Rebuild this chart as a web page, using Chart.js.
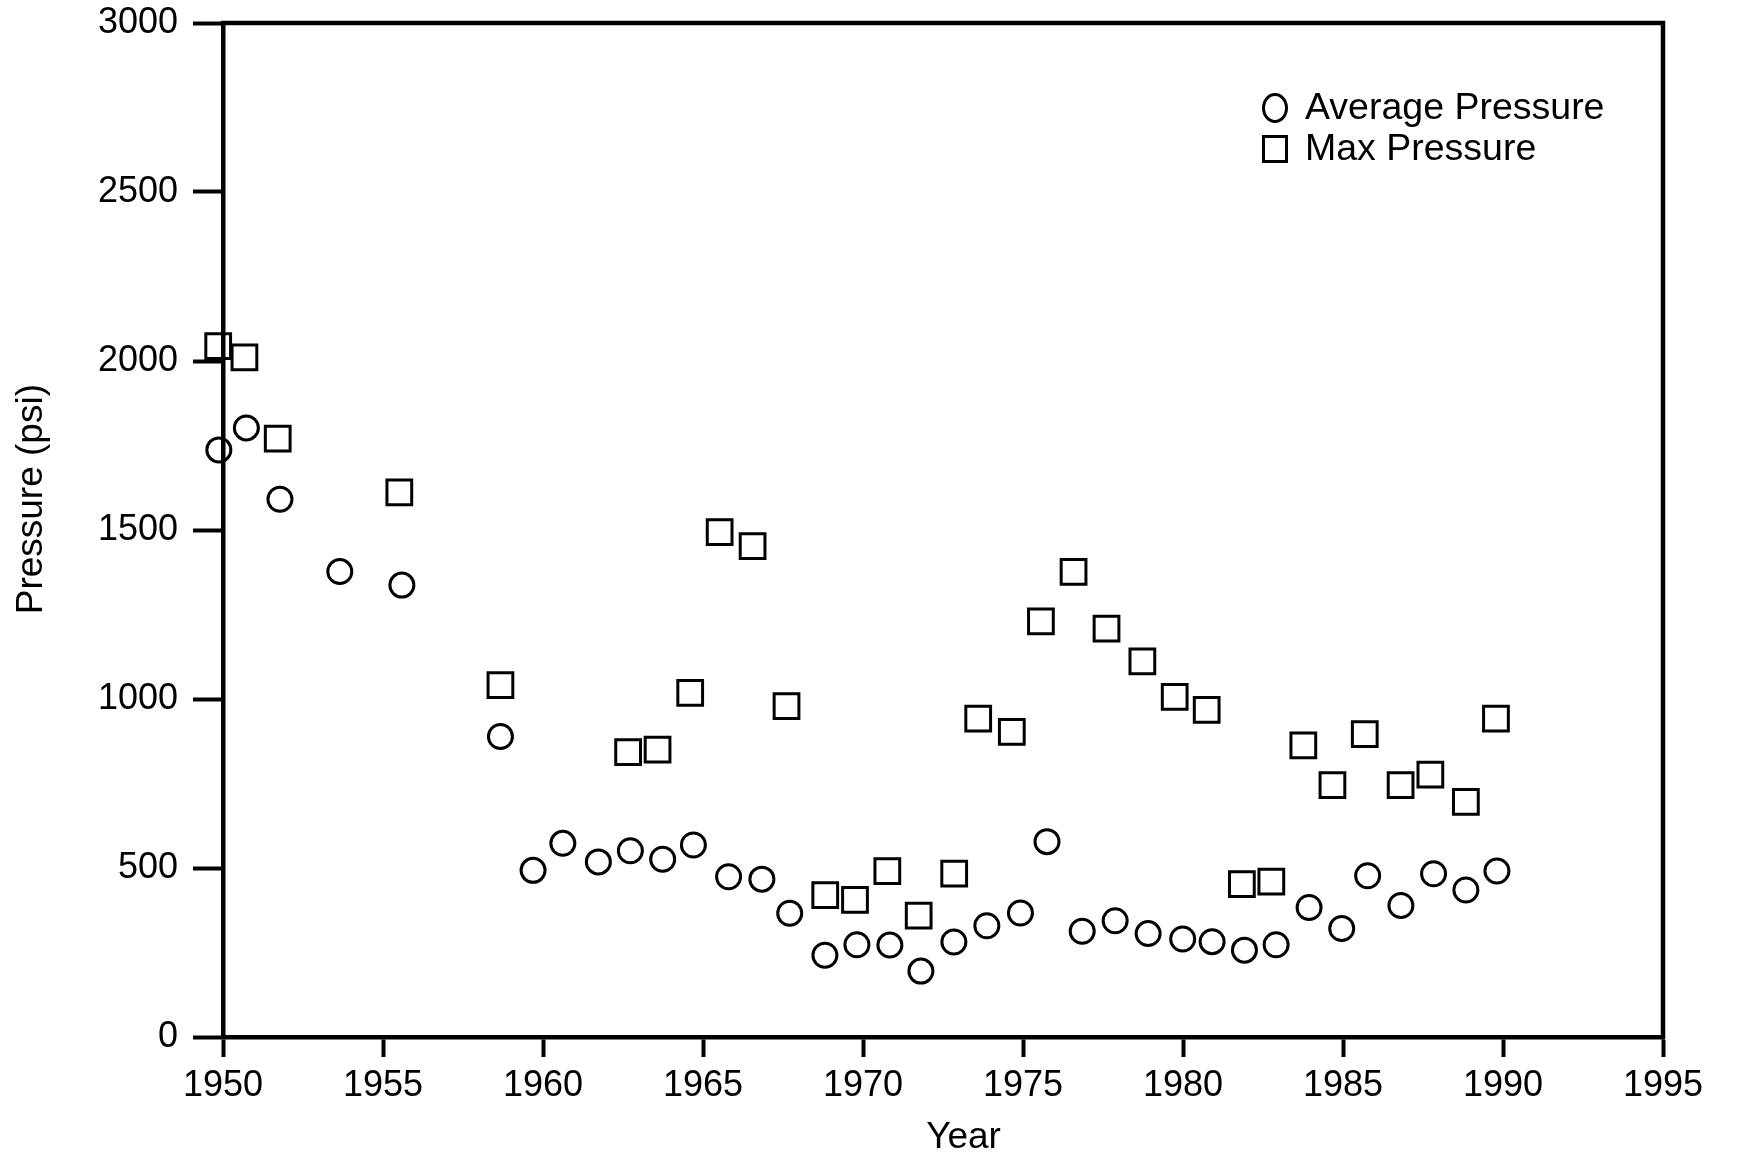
<!DOCTYPE html>
<html>
<head>
<meta charset="utf-8">
<script src="https://cdn.jsdelivr.net/npm/chart.js@4.4.1/dist/chart.umd.min.js"></script>
<style>
  html, body { margin: 0; padding: 0; background: #ffffff; }
  canvas { display: block; }
</style>
</head>
<body>
<canvas id="chart" width="1739" height="1160"></canvas>
<script>
// ---- Data ----
const avgYears = [1949.87, 1950.73, 1951.78, 1953.65, 1955.59, 1958.67, 1959.69, 1960.62, 1961.73, 1962.73,
                  1963.74, 1964.70, 1965.80, 1966.84, 1967.71, 1968.81, 1969.81, 1970.84, 1971.81, 1972.84,
                  1973.87, 1974.92, 1975.75, 1976.85, 1977.88, 1978.91, 1979.99, 1980.91, 1981.92, 1982.91,
                  1983.94, 1984.96, 1985.77, 1986.81, 1987.83, 1988.84, 1989.81];
const avgPressure = [1737, 1802, 1591, 1377, 1337, 889, 493, 573, 518, 551,
                     526, 568, 474, 467, 366, 242, 273, 272, 195, 281,
                     329, 367, 578, 313, 344, 306, 290, 282, 257, 273,
                     383, 321, 477, 389, 483, 435, 491];

const maxYears = [1949.85, 1950.67, 1951.71, 1955.51, 1958.67, 1962.66, 1963.58, 1964.60, 1965.52, 1966.55,
                  1967.61, 1968.82, 1969.75, 1970.76, 1971.74, 1972.85, 1973.60, 1974.65, 1975.56, 1976.58,
                  1977.61, 1978.73, 1979.74, 1980.74, 1981.84, 1982.76, 1983.76, 1984.67, 1985.68, 1986.80,
                  1987.73, 1988.84, 1989.78];
const maxPressure = [2044, 2011, 1770, 1611, 1041, 843, 850, 1018, 1494, 1452,
                     979, 420, 406, 491, 359, 483, 942, 903, 1230, 1376,
                     1208, 1111, 1006, 968, 452, 460, 863, 745, 896, 745,
                     776, 696, 942];

const xTickLabels = ['1950', '1955', '1960', '1965', '1970', '1975', '1980', '1985', '1990', '1995'];
const yTickLabels = ['0', '500', '1000', '1500', '2000', '2500', '3000'];
const seriesNames = ['Average Pressure', 'Max Pressure'];
const xTitle = 'Year';
const yTitle = 'Pressure (psi)';

// ---- Styling ----
const FONT = "'Liberation Sans', Arial, Helvetica, sans-serif";
const INK = '#000000';

const toPoints = (xs, ys) => xs.map((x, i) => ({ x: x, y: ys[i] }));

// Top and right sides of the plot frame
const framePlugin = {
  id: 'frame',
  afterDatasetsDraw(chart) {
    const { ctx, chartArea: a } = chart;
    ctx.save();
    ctx.strokeStyle = INK;
    ctx.lineWidth = 4.5;
    ctx.lineCap = 'square';
    ctx.beginPath();
    ctx.moveTo(a.left, a.top);
    ctx.lineTo(a.right, a.top);
    ctx.lineTo(a.right, a.bottom);
    ctx.stroke();
    ctx.restore();
  }
};

// Legend drawn inside the plot, top-right
const insideLegend = {
  id: 'insideLegend',
  afterDraw(chart) {
    const { ctx, chartArea: a } = chart;
    const sx = a.right - 388;
    const y0 = a.top + 85;
    const dy = 41;
    chart.data.datasets.forEach((ds, i) => {
      const cy = y0 + i * dy;
      ctx.save();
      ctx.strokeStyle = INK;
      ctx.lineWidth = 3;
      if (ds.pointStyle === 'circle') {
        ctx.beginPath();
        ctx.ellipse(sx, cy, 11.5, 13.5, 0, 0, Math.PI * 2);
        ctx.stroke();
      } else {
        ctx.strokeRect(sx - 11.5, cy - 12.5, 23, 25);
      }
      ctx.fillStyle = INK;
      ctx.font = '37.5px ' + FONT;
      ctx.textAlign = 'left';
      ctx.textBaseline = 'middle';
      ctx.fillText(ds.label, sx + 30, cy + 1);
      ctx.restore();
    });
  }
};

new Chart(document.getElementById('chart').getContext('2d'), {
  type: 'scatter',
  data: {
    datasets: [
      {
        label: seriesNames[0],
        data: toPoints(avgYears, avgPressure),
        pointStyle: 'circle',
        pointRadius: 12,
        pointHoverRadius: 12,
        pointBorderWidth: 3,
        pointBorderColor: INK,
        pointBackgroundColor: 'rgba(0,0,0,0)',
        showLine: false,
        clip: false
      },
      {
        label: seriesNames[1],
        data: toPoints(maxYears, maxPressure),
        pointStyle: 'rect',
        pointRadius: 17.5,
        pointHoverRadius: 17.5,
        pointBorderWidth: 3,
        pointBorderColor: INK,
        pointBackgroundColor: 'rgba(0,0,0,0)',
        showLine: false,
        clip: false
      }
    ]
  },
  options: {
    responsive: false,
    animation: false,
    devicePixelRatio: 1,
    events: [],
    layout: { padding: { top: 23, right: 76, left: 0, bottom: 0 } },
    plugins: {
      legend: { display: false },
      tooltip: { enabled: false }
    },
    scales: {
      x: {
        type: 'linear',
        position: 'bottom',
        min: Number(xTickLabels[0]),
        max: Number(xTickLabels[xTickLabels.length - 1]),
        afterBuildTicks(scale) {
          scale.ticks = xTickLabels.map(v => ({ value: Number(v) }));
        },
        afterFit(scale) { scale.height = 123; },
        ticks: {
          callback: (v) => xTickLabels.find(t => Number(t) === v) ?? '',
          font: { family: FONT, size: 36 },
          color: INK,
          padding: 7,
          maxRotation: 0,
          autoSkip: false
        },
        grid: {
          display: true,
          drawOnChartArea: false,
          drawTicks: true,
          tickLength: 20,
          tickWidth: 4,
          tickColor: INK,
          color: INK
        },
        border: { display: true, width: 4.5, color: INK },
        title: {
          display: true,
          text: '    ' + xTitle,
          font: { family: FONT, size: 37 },
          color: INK,
          padding: { top: 0, bottom: 0 }
        }
      },
      y: {
        type: 'linear',
        position: 'left',
        min: Number(yTickLabels[0]),
        max: Number(yTickLabels[yTickLabels.length - 1]),
        afterBuildTicks(scale) {
          scale.ticks = yTickLabels.map(v => ({ value: Number(v) }));
        },
        afterFit(scale) {
          scale.width = 223;
          scale.paddingTop = 0;
          scale.paddingBottom = 0;
        },
        ticks: {
          callback: (v) => yTickLabels.find(t => Number(t) === v) ?? '',
          font: { family: FONT, size: 36 },
          color: INK,
          padding: 15,
          autoSkip: false
        },
        grid: {
          display: true,
          drawOnChartArea: false,
          drawTicks: true,
          tickLength: 30,
          tickWidth: 4,
          tickColor: INK,
          color: INK
        },
        border: { display: true, width: 4.5, color: INK },
        title: {
          display: true,
          text: '      ' + yTitle,
          font: { family: FONT, size: 37 },
          color: INK,
          padding: { top: 10, bottom: 0 }
        }
      }
    }
  },
  plugins: [framePlugin, insideLegend]
});
</script>
</body>
</html>
